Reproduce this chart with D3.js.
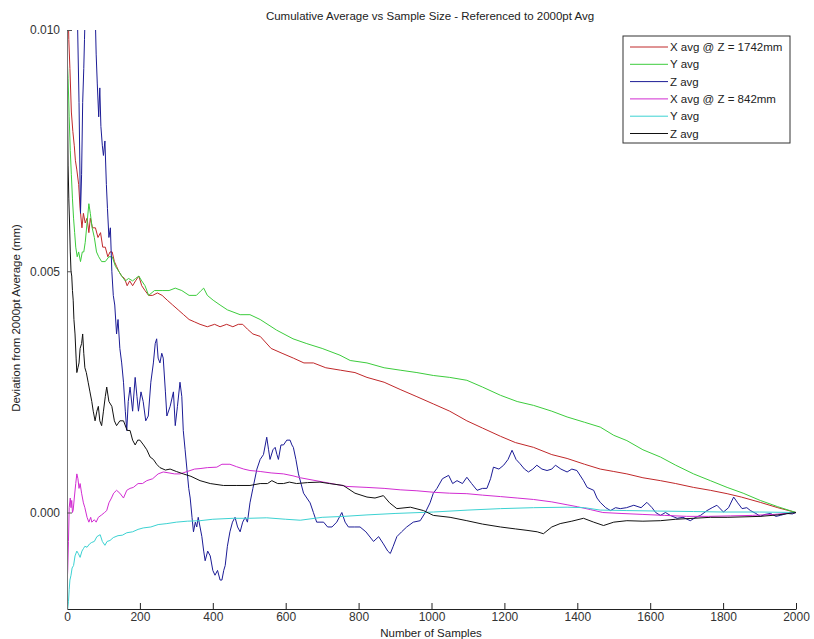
<!DOCTYPE html>
<html>
<head>
<meta charset="utf-8">
<script src="https://cdn.jsdelivr.net/npm/d3@7"></script>
<style>
  body { margin: 0; background: #fff; }
  svg { font-family: "Liberation Sans", Arial, sans-serif; }
</style>
</head>
<body>
<div id="chart"></div>
<script>
// sample index / deviation (mm)
var xAvgFar = [[0,0.0125],[3,0.0105],[5,0.0098],[8,0.0092],[12,0.0083],[16,0.0079],[20,0.0076],[23,0.0073],[27,0.0071],[32,0.0068],[36,0.0063],[41,0.0059],[45,0.0062],[50,0.0060],[55,0.0061],[60,0.0058],[64,0.0061],[70,0.0059],[78,0.0059],[85,0.0057],[92,0.0058],[98,0.0055],[105,0.0055],[112,0.0053],[118,0.0054],[124,0.0054],[130,0.0052],[136,0.0051],[142,0.0050],[150,0.0049],[158,0.00485],[165,0.0047],[172,0.0048],[180,0.0047],[188,0.0048],[197,0.0049],[205,0.0047],[214,0.0046],[224,0.0045],[235,0.0045],[248,0.00455],[261,0.0045],[275,0.0044],[290,0.0043],[305,0.0042],[320,0.0041],[335,0.0040],[350,0.00395],[365,0.0039],[385,0.00385],[405,0.0039],[420,0.00385],[438,0.0039],[455,0.00385],[470,0.0039],[482,0.0039],[495,0.0038],[510,0.0037],[530,0.00365],[560,0.0034],[590,0.0033],[621,0.0032],[650,0.0031],[676,0.0031],[710,0.0030],[750,0.00295],[790,0.0029],[823,0.0028],[870,0.0027],[914,0.00255],[960,0.0024],[1005,0.00225],[1050,0.0021],[1097,0.0019],[1140,0.00175],[1189,0.00158],[1230,0.00145],[1280,0.00135],[1330,0.0012],[1372,0.00112],[1420,0.0010],[1463,0.0009],[1500,0.00085],[1536,0.0008],[1580,0.00072],[1628,0.00066],[1670,0.0006],[1719,0.00052],[1765,0.00046],[1811,0.00039],[1850,0.00032],[1902,0.00021],[1950,0.0001],[2000,0]];

var yAvgFar = [[0,0.0095],[3,0.0090],[6,0.0082],[9,0.0075],[12,0.0070],[15,0.0065],[18,0.0061],[21,0.0058],[24,0.0055],[28,0.0053],[32,0.0054],[37,0.0052],[42,0.0054],[46,0.0054],[50,0.0056],[55,0.0060],[60,0.0064],[64,0.0062],[69,0.0059],[75,0.0057],[81,0.0054],[87,0.0053],[95,0.0052],[105,0.0052],[115,0.0053],[124,0.0053],[133,0.0051],[142,0.0050],[150,0.0049],[160,0.0048],[169,0.00485],[180,0.0048],[188,0.00485],[197,0.0049],[205,0.0048],[214,0.0047],[224,0.0045],[240,0.0046],[261,0.0046],[280,0.0046],[297,0.00465],[315,0.0046],[335,0.0045],[355,0.0045],[368,0.0046],[375,0.00465],[385,0.0045],[401,0.0044],[420,0.0043],[440,0.0042],[475,0.0041],[502,0.0041],[530,0.0040],[575,0.00378],[620,0.0036],[658,0.0035],[700,0.0034],[749,0.00326],[777,0.00315],[823,0.0031],[870,0.0030],[914,0.00295],[960,0.0029],[1005,0.00284],[1050,0.0028],[1097,0.00274],[1140,0.0026],[1189,0.00243],[1235,0.0023],[1280,0.00222],[1330,0.0021],[1372,0.00198],[1420,0.00187],[1463,0.00177],[1500,0.0016],[1536,0.00149],[1580,0.0013],[1628,0.00115],[1670,0.00098],[1719,0.0008],[1765,0.00066],[1811,0.00052],[1855,0.0004],[1902,0.00025],[1950,0.00012],[2000,0]];

var zAvgFar = [[0,0.020],[10,0.016],[20,0.013],[28,0.0105],[33,0.0085],[37,0.0062],[40,0.0070],[43,0.0085],[46,0.0092],[48,0.0098],[52,0.0110],[60,0.0125],[70,0.0118],[76,0.0108],[80,0.0095],[83,0.0089],[87,0.0082],[90,0.0088],[93,0.0080],[97,0.0076],[100,0.0074],[104,0.0077],[108,0.0068],[111,0.0063],[115,0.0057],[119,0.0059],[123,0.0050],[127,0.0045],[131,0.0043],[136,0.0037],[140,0.0040],[145,0.0034],[150,0.0031],[155,0.0027],[160,0.0021],[164,0.0017],[168,0.0023],[173,0.0026],[180,0.0021],[187,0.0028],[192,0.0024],[196,0.0021],[203,0.0025],[209,0.0023],[216,0.0019],[223,0.0020],[230,0.0027],[237,0.0031],[242,0.0035],[246,0.0036],[250,0.0032],[255,0.0031],[260,0.0033],[264,0.0032],[270,0.0025],[274,0.0020],[283,0.0022],[292,0.0025],[297,0.0018],[303,0.0022],[310,0.0027],[315,0.0024],[319,0.0017],[324,0.0013],[329,0.0009],[334,0.0005],[338,0.0003],[343,-0.0001],[347,-0.0004],[352,-0.0002],[356,-0.0003],[360,-0.0001],[365,-0.0003],[370,-0.0005],[375,-0.0008],[379,-0.0010],[386,-0.0008],[393,-0.0009],[400,-0.0012],[406,-0.0013],[413,-0.0012],[420,-0.0014],[425,-0.0014],[430,-0.0012],[434,-0.0011],[440,-0.0007],[447,-0.0004],[454,-0.0002],[461,-0.0001],[468,-0.0003],[475,-0.0004],[482,-0.0002],[489,-0.0001],[495,-0.0002],[502,0.0002],[510,0.0005],[521,0.0009],[530,0.0011],[539,0.0012],[548,0.00156],[553,0.0013],[557,0.0011],[565,0.0013],[571,0.00135],[576,0.0012],[580,0.0011],[587,0.0014],[594,0.0014],[603,0.0015],[612,0.0015],[617,0.0014],[621,0.00135],[628,0.0011],[635,0.0008],[642,0.0006],[649,0.0004],[658,0.0003],[667,0.0002],[676,0.0000],[685,-0.0002],[694,-0.0002],[704,-0.0002],[715,-0.0003],[727,-0.0003],[740,-0.0002],[754,0.0000],[763,-0.0002],[772,-0.0003],[788,-0.0003],[804,-0.0003],[820,-0.0004],[841,-0.0006],[855,-0.0005],[868,-0.00065],[880,-0.0008],[887,-0.00085],[895,-0.0007],[905,-0.0005],[918,-0.0004],[932,-0.0003],[950,-0.0002],[969,-0.00017],[983,0.0000],[996,0.0002],[1005,0.0004],[1015,0.0005],[1030,0.0007],[1047,0.00077],[1058,0.0006],[1070,0.00066],[1085,0.0006],[1097,0.00073],[1110,0.0006],[1125,0.00046],[1140,0.0005],[1152,0.0005],[1162,0.0007],[1170,0.00094],[1185,0.0009],[1198,0.00098],[1210,0.0011],[1221,0.00129],[1232,0.0011],[1243,0.00101],[1255,0.0009],[1266,0.00084],[1278,0.0009],[1289,0.00098],[1303,0.0009],[1317,0.00087],[1330,0.0009],[1340,0.00098],[1355,0.0009],[1372,0.00084],[1385,0.0009],[1399,0.00087],[1417,0.00066],[1427,0.00052],[1445,0.00046],[1454,0.0003],[1463,0.00021],[1478,0.0001],[1491,0.00004],[1505,0.0001],[1518,0.00008],[1535,0.0001],[1555,0.00015],[1575,0.0001],[1591,0.00021],[1605,0.0001],[1615,0.0000],[1628,-0.00006],[1642,0.0000],[1655,-0.00006],[1674,-0.00012],[1690,-0.0001],[1710,-0.00017],[1725,-0.0001],[1738,-0.00006],[1756,0.00004],[1770,0.0001],[1783,0.00015],[1801,0.00001],[1815,0.0001],[1829,0.00032],[1840,0.0002],[1852,0.00008],[1865,0.0001],[1875,0.00004],[1890,-0.00002],[1902,-0.00008],[1915,-0.00004],[1930,-0.00002],[1945,-0.00008],[1957,-0.00006],[1975,-0.00002],[1990,-0.00003],[2000,0]];

var xAvgNear = [[0,-0.0015],[2,-0.0012],[4,-0.0006],[6,0.0001],[9,0.0003],[11,0.0001],[13,0.00025],[15,0.0000],[17,0.00005],[20,0.0003],[24,0.0006],[27,0.0008],[30,0.0007],[33,0.0005],[36,0.0006],[40,0.0004],[45,0.0002],[49,0.0001],[55,-0.0001],[60,-0.0002],[65,-0.0001],[68,-0.0002],[75,-0.00015],[80,-0.0002],[86,-0.0001],[95,-0.00005],[103,0.0000],[109,0.00004],[115,0.0002],[122,0.0003],[128,0.0004],[136,0.00046],[145,0.0004],[155,0.0003],[164,0.00046],[173,0.0005],[182,0.00052],[195,0.0006],[207,0.0006],[219,0.00066],[235,0.0007],[250,0.0008],[264,0.00084],[280,0.00082],[295,0.0008],[310,0.0008],[330,0.00085],[350,0.0009],[365,0.00091],[385,0.00093],[411,0.00094],[425,0.001],[447,0.001],[465,0.00095],[485,0.0009],[502,0.00087],[530,0.00085],[560,0.00082],[594,0.0008],[620,0.00076],[640,0.00072],[704,0.00063],[768,0.00054],[823,0.00052],[870,0.0005],[914,0.00047],[960,0.00045],[1005,0.00042],[1050,0.0004],[1097,0.00039],[1140,0.00036],[1189,0.00033],[1235,0.0003],[1280,0.00027],[1330,0.00022],[1372,0.00016],[1400,0.00012],[1436,0.00006],[1470,0.0000],[1520,-0.00002],[1580,-0.00004],[1640,-0.00006],[1700,-0.00008],[1760,-0.00008],[1820,-0.00007],[1880,-0.00006],[1940,-0.00004],[2000,0]];

var yAvgNear = [[0,-0.0022],[2,-0.0020],[4,-0.00185],[6,-0.0016],[8,-0.0014],[11,-0.0013],[14,-0.00115],[18,-0.0011],[22,-0.0009],[27,-0.0008],[31,-0.00085],[36,-0.00093],[41,-0.0008],[45,-0.00075],[49,-0.0007],[55,-0.00072],[62,-0.00065],[68,-0.00062],[75,-0.0006],[82,-0.0005],[91,-0.00046],[97,-0.0006],[104,-0.00068],[110,-0.0006],[118,-0.00058],[127,-0.00052],[140,-0.00048],[152,-0.00047],[164,-0.00042],[180,-0.0004],[195,-0.00035],[209,-0.00032],[230,-0.0003],[250,-0.00025],[274,-0.00023],[300,-0.0002],[330,-0.00018],[365,-0.00017],[400,-0.00014],[456,-0.00012],[500,-0.00012],[548,-0.00011],[600,-0.00014],[640,-0.00016],[700,-0.0001],[760,-0.00008],[823,-0.00005],[900,-0.00002],[1005,0.00001],[1100,0.00005],[1189,0.00008],[1280,0.0001],[1372,0.00011],[1420,0.0001],[1463,0.00005],[1536,0.00004],[1620,0.00003],[1719,0.00002],[1800,0.00001],[1900,0.00001],[2000,0]];

var zAvgNear = [[0,0.0095],[1,0.0089],[2,0.0080],[3,0.0072],[5,0.0065],[7,0.0060],[9,0.0054],[11,0.0050],[13,0.0049],[15,0.0046],[17,0.0044],[19,0.0040],[22,0.0037],[25,0.0032],[27,0.0029],[30,0.0030],[33,0.0031],[36,0.0034],[40,0.0035],[43,0.0037],[46,0.0033],[49,0.0030],[53,0.0029],[58,0.0027],[63,0.0025],[68,0.0023],[72,0.0021],[77,0.0019],[82,0.0021],[86,0.0022],[90,0.0019],[95,0.0018],[100,0.0021],[105,0.0024],[109,0.0026],[115,0.0023],[123,0.0022],[130,0.0019],[136,0.0018],[145,0.0019],[155,0.0019],[165,0.0017],[173,0.0017],[180,0.0015],[187,0.0014],[194,0.0015],[200,0.0015],[210,0.0014],[219,0.0013],[228,0.00115],[237,0.0011],[246,0.001],[255,0.00093],[270,0.00088],[283,0.0009],[300,0.00085],[319,0.0008],[340,0.00075],[365,0.00066],[393,0.0006],[429,0.00056],[466,0.00056],[502,0.00056],[530,0.0006],[550,0.0006],[562,0.00066],[578,0.0006],[594,0.0006],[610,0.00063],[630,0.0006],[660,0.00062],[694,0.00063],[720,0.0006],[758,0.00056],[790,0.0004],[823,0.00032],[845,0.0003],[868,0.00035],[885,0.0002],[905,0.00008],[942,0.00011],[978,0.00004],[1005,-0.00006],[1051,-0.0001],[1097,-0.00017],[1140,-0.00024],[1189,-0.0003],[1230,-0.00034],[1262,-0.00037],[1290,-0.0004],[1307,-0.00044],[1330,-0.0003],[1353,-0.00023],[1385,-0.00018],[1417,-0.00012],[1445,-0.0002],[1472,-0.00027],[1500,-0.0002],[1536,-0.00017],[1580,-0.00018],[1628,-0.00017],[1670,-0.00014],[1719,-0.00012],[1765,-0.0001],[1811,-0.0001],[1860,-0.00009],[1902,-0.00008],[1950,-0.00005],[2000,0]];

var seriesNames = ["X avg @ Z = 1742mm", "Y avg", "Z avg", "X avg @ Z = 842mm", "Y avg", "Z avg"];
var xTicks = [0, 200, 400, 600, 800, 1000, 1200, 1400, 1600, 1800, 2000];
var yTicks = [0, 0.005, 0.010];

var allSeries = [xAvgFar, yAvgFar, zAvgFar, xAvgNear, yAvgNear, zAvgNear];
var colors = ["#c0282a", "#3ccc3c", "#1c1c96", "#d22cd2", "#3cd2d2", "#111111"];

var svgWidth = 814, svgHeight = 639;
var margin = {top: 30, right: 18, bottom: 30, left: 67};
var width = svgWidth - margin.left - margin.right;
var height = svgHeight - margin.top - margin.bottom;

var svg = d3.select("#chart").append("svg")
  .attr("width", svgWidth)
  .attr("height", svgHeight);

var chartGroup = svg.append("g")
  .attr("transform", `translate(${margin.left}, ${margin.top})`);

var xScale = d3.scaleLinear().domain([0, 2000]).range([0, width]);
var yScale = d3.scaleLinear().domain([-0.002, 0.010]).range([height, 0]);

chartGroup.append("clipPath").attr("id", "plotclip")
  .append("rect").attr("x", 0).attr("y", 0).attr("width", width + 2).attr("height", height);

// lines
var line = d3.line().x(d => xScale(d[0])).y(d => yScale(d[1]));
var linesGroup = chartGroup.append("g").attr("clip-path", "url(#plotclip)");
allSeries.forEach(function(data, i) {
  linesGroup.append("path")
    .datum(data)
    .attr("d", line)
    .attr("fill", "none")
    .attr("stroke", colors[i])
    .attr("stroke-width", 1);
});

// axes (ticks pointing inward)
var xAxis = d3.axisBottom(xScale).tickValues(xTicks).tickFormat(d3.format("d"))
  .tickSizeInner(-6).tickSizeOuter(0).tickPadding(3);
var yAxis = d3.axisLeft(yScale).tickValues(yTicks).tickFormat(d3.format(".3f"))
  .tickSizeInner(-5).tickSizeOuter(0).tickPadding(7);

var gx = chartGroup.append("g")
  .attr("transform", `translate(0, ${height})`)
  .call(xAxis);
gx.select(".domain").attr("stroke", "#222");
gx.selectAll(".tick line").attr("stroke", "#222");
gx.selectAll("text").attr("font-size", 12).attr("fill", "#333");

var gy = chartGroup.append("g").call(yAxis);
gy.select(".domain").attr("stroke", "#777");
gy.selectAll(".tick line").attr("stroke", "#555");
gy.selectAll("text").attr("font-size", 12).attr("fill", "#333");

// title and labels
svg.append("text")
  .attr("x", 430).attr("y", 20)
  .attr("text-anchor", "middle")
  .attr("font-size", 11.5)
  .attr("fill", "#222")
  .text("Cumulative Average vs Sample Size - Referenced to 2000pt Avg");

svg.append("text")
  .attr("x", 431).attr("y", 637)
  .attr("text-anchor", "middle")
  .attr("font-size", 11.5)
  .attr("fill", "#222")
  .text("Number of Samples");

svg.append("text")
  .attr("transform", "translate(20, 318) rotate(-90)")
  .attr("text-anchor", "middle")
  .attr("font-size", 11.5)
  .attr("fill", "#222")
  .text("Deviation from 2000pt Average (mm)");

// legend
var legend = svg.append("g").attr("transform", "translate(623, 36)");
legend.append("rect")
  .attr("width", 167).attr("height", 107)
  .attr("fill", "#fff")
  .attr("stroke", "#333");

seriesNames.forEach(function(name, i) {
  var y = 11 + i * 17.3;
  legend.append("line")
    .attr("x1", 7).attr("x2", 45)
    .attr("y1", y).attr("y2", y)
    .attr("stroke", colors[i]);
  legend.append("text")
    .attr("x", 47).attr("y", y + 4)
    .attr("font-size", 11.5)
    .attr("fill", "#222")
    .text(name);
});
</script>
</body>
</html>
